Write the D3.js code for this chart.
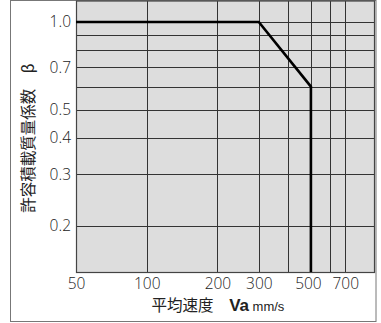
<!DOCTYPE html>
<html><head><meta charset="utf-8">
<script src="https://cdn.jsdelivr.net/npm/d3@7"></script>
<style>body{margin:0;background:#fff}svg{display:block}</style>
</head><body>
<script>
const speedTicks = [50, 100, 200, 300, 500, 700];
const speedGrid = [50, 100, 200, 300, 400, 500, 600, 700];
const betaTicks = [0.2, 0.3, 0.4, 0.5, 0.7, 1.0];
const betaGrid = [0.2, 0.3, 0.4, 0.5, 0.6, 0.7, 0.8, 0.9, 1.0];
const curveSpeed = [50, 300, 500, 500];
const curveBeta = [1.0, 1.0, 0.6, 0.1386];
const xDomain = [50, 928];
const yDomain = [0.1386, 1.18];

const W = 381, H = 323;
const m = {l: 76, r: 374, t: 1, b: 272};
const svg = d3.select("body").append("svg").attr("width", W).attr("height", H);
const x = d3.scaleLog().domain(xDomain).range([m.l, m.r]);
const y = d3.scaleLog().domain(yDomain).range([m.b, m.t]);
const font = "'Noto Sans CJK JP', 'Noto Sans', sans-serif";
const numFont = "'Open Sans', 'Noto Sans', sans-serif";

svg.append("rect").attr("x", 10.5).attr("y", 0.5).attr("width", 365.5).attr("height", 321)
  .attr("fill", "none").attr("stroke", "#777").attr("stroke-width", 1);

svg.append("rect").attr("x", m.l).attr("y", m.t).attr("width", m.r - m.l).attr("height", m.b - m.t)
  .attr("fill", "#dddddd");

const g = svg.append("g");
g.selectAll(".vg").data(speedGrid).join("line")
  .attr("x1", d => Math.round(x(d)) + 0.5).attr("x2", d => Math.round(x(d)) + 0.5)
  .attr("y1", m.t).attr("y2", m.b).attr("stroke", "#333").attr("stroke-width", 1);
g.selectAll(".hg").data(betaGrid).join("line")
  .attr("y1", d => Math.round(y(d)) + 0.5).attr("y2", d => Math.round(y(d)) + 0.5)
  .attr("x1", m.l).attr("x2", m.r).attr("stroke", "#333").attr("stroke-width", 1);

svg.append("rect").attr("x", m.l + 0.5).attr("y", m.t).attr("width", m.r - m.l).attr("height", m.b - m.t + 0.5)
  .attr("fill", "none").attr("stroke", "#444").attr("stroke-width", 1.2);

const pts = curveSpeed.map((s, i) => [s, curveBeta[i]]);
svg.append("path").datum(pts)
  .attr("d", d3.line().x(d => x(d[0])).y(d => y(d[1])))
  .attr("fill", "none").attr("stroke", "#000").attr("stroke-width", 2.6).attr("stroke-linejoin", "miter");

// x axis labels
const xAxis = d3.axisBottom(x).tickValues(speedTicks).tickFormat(d3.format("d")).tickSize(0).tickPadding(6);
const xa = svg.append("g").attr("transform", `translate(0,${m.b})`).call(xAxis);
xa.select(".domain").remove();
xa.selectAll("text").attr("font-family", numFont).attr("font-weight", 300).attr("font-size", 15.5).attr("fill", "#222")
  .attr("dx", d => d === 500 ? -3 : 0);

const yAxis = d3.axisLeft(y).tickValues(betaTicks).tickFormat(d3.format(".1f")).tickSize(0).tickPadding(5);
const ya = svg.append("g").attr("transform", `translate(${m.l},0)`).call(yAxis);
ya.select(".domain").remove();
ya.selectAll("text").attr("font-family", numFont).attr("font-weight", 300).attr("font-size", 15.5).attr("fill", "#222");

// x title
const xt = svg.append("text").attr("x", 218).attr("y", 311).attr("text-anchor", "middle")
  .attr("font-family", font).attr("fill", "#222");
xt.append("tspan").attr("font-size", 15.5).text("平均速度　");
xt.append("tspan").attr("font-size", 17).attr("font-weight", "bold").attr("font-family", "'Liberation Sans', Arial, sans-serif").text("Va");
xt.append("tspan").attr("font-size", 13).attr("font-family", "'Liberation Sans', Arial, sans-serif").text(" mm/s");

// y title
svg.append("text").attr("transform", "translate(34,138) rotate(-90)").attr("text-anchor", "middle")
  .attr("font-family", font).attr("font-size", 15.5).attr("fill", "#222")
  .text("許容積載質量係数　β");
</script>
</body></html>
